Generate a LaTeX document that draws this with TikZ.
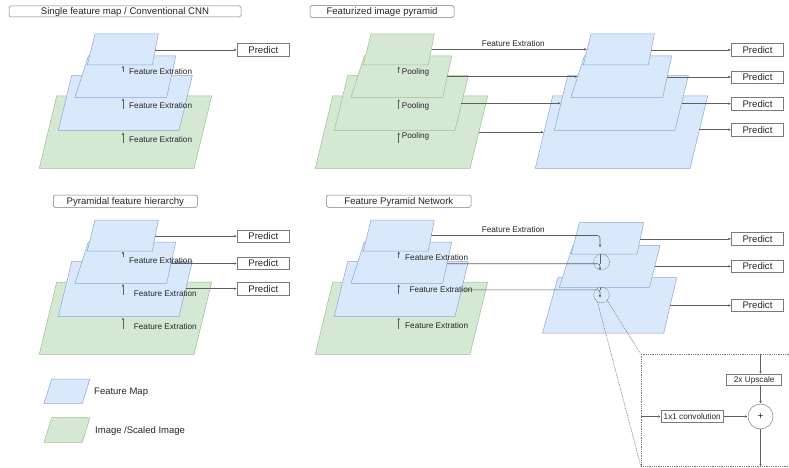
\documentclass[tikz,border=0pt]{standalone}
\usepackage{fontspec}
\setmainfont{Liberation Sans}
\usetikzlibrary{arrows.meta}

\definecolor{fmfill}{HTML}{DAE8FC}
\definecolor{fmline}{HTML}{89A7D8}
\definecolor{imfill}{HTML}{D5E8D4}
\definecolor{imline}{HTML}{99C28A}
\definecolor{wire}{HTML}{5E5E5E}
\definecolor{boxline}{HTML}{7A7A7A}
\definecolor{txt}{HTML}{262626}

% one slanted layer: style, then its four corners
\newcommand\plate[5]{\filldraw[#1] #2 -- #3 -- #4 -- #5 -- cycle;}
% a four-level stack: #1 style of the three upper layers, #2 style of the base layer
\newcommand\pyramid[2]{%
  \plate{#2}{(56.7,96)}{(211.7,96)}{(194,168.3)}{(39.3,168.3)}
  \plate{#1}{(71.7,75.7)}{(192.3,75.7)}{(179,130.3)}{(58.3,130.3)}
  \plate{#1}{(88.3,56)}{(175.7,56)}{(166.7,97.3)}{(75,97.3)}
  \plate{#1}{(95,34)}{(158.3,34)}{(152.3,65)}{(87.3,65)}
}

\tikzset{
  fmap/.style={fill=fmfill,draw=fmline,line width=0.5pt,line join=miter},
  img/.style={fill=imfill,draw=imline,line width=0.5pt,line join=miter},
  wire/.style={draw=wire,line width=0.6pt,-{Latex[length=2.8pt,width=2.4pt]}},
  plainwire/.style={draw=wire,line width=0.6pt},
  titlebox/.style={draw=boxline,fill=white,rounded corners=1.5pt,line width=0.5pt,
    inner sep=0pt,text=txt,text height=6.9pt,text depth=0.8pt,
    font=\fontsize{9.6}{11}\selectfont},
  predbox/.style={draw=boxline,fill=white,line width=0.5pt,inner sep=0pt,
    minimum width=52pt,minimum height=12.3pt,text=txt,text height=6.9pt,text depth=0pt,
    font=\fontsize{9.6}{11}\selectfont},
  opbox/.style={draw=boxline,fill=white,line width=0.5pt,inner sep=0pt,
    text=txt,text height=5.9pt,text depth=0pt,font=\fontsize{8.2}{10}\selectfont},
  lbl/.style={inner sep=0pt,anchor=west,text=txt,font=\fontsize{8.2}{10}\selectfont},
  toplbl/.style={inner sep=0pt,text=txt,font=\fontsize{8.2}{10}\selectfont},
  legendlbl/.style={inner sep=0pt,anchor=west,text=txt,font=\fontsize{9.5}{11}\selectfont},
  zoomline/.style={draw=boxline,line width=0.6pt,dash pattern=on 0.9pt off 0.9pt},
}

\begin{document}
\begin{tikzpicture}[x=1pt,y=-1pt]
\useasboundingbox (0,0) rectangle (789,468);
\fill[white] (0,0) rectangle (789,468);

% ---------------- Single feature map ----------------
\node[titlebox,minimum width=232pt,minimum height=11pt] (t1) at (125,11.5) {Single feature map / Conventional CNN};
\pyramid{fmap}{img}
\coordinate (s1a) at (123,72);   \coordinate (s1b) at (123,65.3);
\coordinate (s1c) at (123,109);  \coordinate (s1d) at (123,98);
\coordinate (s1e) at (123,143);  \coordinate (s1f) at (123,132);
\draw[wire] (s1a) -- (s1b);
\draw[wire] (s1c) -- (s1d);
\draw[wire] (s1e) -- (s1f);
\node[lbl] (s1l1) at (129,72) {Feature Extration};
\node[lbl] (s1l2) at (129,106) {Feature Extration};
\node[lbl] (s1l3) at (129,140) {Feature Extration};
\node[predbox] (p1) at (263.3,49.85) {Predict};
\coordinate (s1out) at (154.7,49.85);
\draw[wire] (s1out) -- (p1.west);

% ---------------- Featurized image pyramid ----------------
\node[titlebox,minimum width=144pt,minimum height=11.6pt] (t2) at (382,11.5) {Featurized image pyramid};
\begin{scope}[shift={(276,0)}]
  \pyramid{img}{img}
\end{scope}
\begin{scope}[shift={(496,0)}]
  \pyramid{fmap}{fmap}
\end{scope}
\coordinate (s2a) at (398.7,73);    \coordinate (s2b) at (398.7,66);
\coordinate (s2c) at (398.7,108.7); \coordinate (s2d) at (398.7,98.7);
\coordinate (s2e) at (398.7,143.3); \coordinate (s2f) at (398.7,132);
\draw[wire] (s2a) -- (s2b);
\draw[wire] (s2c) -- (s2d);
\draw[wire] (s2e) -- (s2f);
\node[lbl] (s2l1) at (401.7,72) {Pooling};
\node[lbl] (s2l2) at (401.7,106) {Pooling};
\node[lbl] (s2l3) at (401.7,136.7) {Pooling};
% image levels to feature levels
\coordinate (g1) at (431.5,49.3);  \coordinate (r1) at (587.2,49.3);
\coordinate (g2) at (446.5,76.7);  \coordinate (r2) at (577.6,76.7);
\coordinate (g3) at (461.3,103.3); \coordinate (r3) at (560.9,103.3);
\coordinate (g4) at (478.8,132.3); \coordinate (r4) at (544,132.3);
\draw[wire] (g1) -- (r1);
\draw[wire] (g2) -- (r2);
\draw[wire] (g3) -- (r3);
\draw[wire] (g4) -- (r4);
\node[toplbl] (s2fe) at (513.3,43.3) {Feature Extration};
\node[predbox] (p2a) at (757.5,49.85) {Predict};
\node[predbox] (p2b) at (757.5,77) {Predict};
\node[predbox] (p2c) at (757.5,103.65) {Predict};
\node[predbox] (p2d) at (757.5,129.65) {Predict};
\coordinate (q1) at (651.2,49.85);
\coordinate (q2) at (667.1,77);
\coordinate (q3) at (681.5,103.65);
\coordinate (q4) at (699.4,129.65);
\draw[wire] (q1) -- (p2a.west);
\draw[wire] (q2) -- (p2b.west);
\draw[wire] (q3) -- (p2c.west);
\draw[wire] (q4) -- (p2d.west);

% ---------------- Pyramidal feature hierarchy ----------------
\node[titlebox,minimum width=144pt,minimum height=12.3pt] (t3) at (125.3,201.15) {Pyramidal feature hierarchy};
\begin{scope}[shift={(0,186)}]
  \pyramid{fmap}{img}
\end{scope}
\coordinate (s3a) at (123,256.7); \coordinate (s3b) at (123,251);
\coordinate (s3c) at (123,294.7); \coordinate (s3d) at (123,283.7);
\coordinate (s3e) at (123,329.3); \coordinate (s3f) at (123,317.3);
\draw[wire] (s3a) -- (s3b);
\draw[wire] (s3c) -- (s3d);
\draw[wire] (s3e) -- (s3f);
\node[predbox] (p3a) at (263.3,236.15) {Predict};
\node[predbox] (p3b) at (263.3,263.5) {Predict};
\node[predbox] (p3c) at (263.3,288.65) {Predict};
\coordinate (h1) at (155.2,236.15);
\coordinate (h2) at (171,263.5);
\coordinate (h3) at (185.7,288.65);
\draw[wire] (h1) -- (p3a.west);
\draw[wire] (h2) -- (p3b.west);
\draw[wire] (h3) -- (p3c.west);
\node[lbl] (s3l1) at (129,260.3) {Feature Extration};
\node[lbl] (s3l2) at (133.7,293.7) {Feature Extration};
\node[lbl] (s3l3) at (133.7,326.3) {Feature Extration};

% ---------------- Feature Pyramid Network ----------------
\node[titlebox,minimum width=144.3pt,minimum height=12.3pt] (t4) at (398.85,201.15) {Feature Pyramid Network};
\begin{scope}[shift={(276,186)}]
  \pyramid{fmap}{img}
\end{scope}
% top-down path
\plate{fmap}{(558,277.5)}{(676.7,277.5)}{(663.7,333)}{(542.5,333)}
\plate{fmap}{(573,245.3)}{(660,245.3)}{(649.5,287.3)}{(559.3,287.3)}
\plate{fmap}{(579.5,222.7)}{(643.7,222.7)}{(637,254.2)}{(571.2,254.2)}
\coordinate (s4a) at (398.7,257.7); \coordinate (s4b) at (398.7,251);
\coordinate (s4c) at (398.7,294.3); \coordinate (s4d) at (398.7,284);
\coordinate (s4e) at (398.7,329.3); \coordinate (s4f) at (398.7,317.3);
\draw[wire] (s4a) -- (s4b);
\draw[wire] (s4c) -- (s4d);
\draw[wire] (s4e) -- (s4f);
\node[lbl] (s4l1) at (405,258) {Feature Extration};
\node[lbl] (s4l2) at (409.3,289.7) {Feature Extration};
\node[lbl] (s4l3) at (405,326) {Feature Extration};
\node[toplbl] (s4fe) at (513.3,229.3) {Feature Extration};
% lateral connections
\coordinate (l1) at (431.3,235.5); \coordinate (l1t) at (600,247.7);
\coordinate (l2) at (447.1,263.7); \coordinate (l2t) at (600,270.5);
\coordinate (l3) at (461.3,289.8); \coordinate (l3t) at (600,298);
\coordinate (d1) at (600,254.2);
\coordinate (d2) at (600,287.3);
\draw[wire,rounded corners=2.5pt] (l1) -- (l1 -| l1t) -- (l1t);
\draw[plainwire] (d1) -- (d1 |- l2);
\draw[wire,rounded corners=2.5pt] (l2) -- (l2 -| l2t) -- (l2t);
\draw[plainwire] (d2) -- (d2 |- l3);
\draw[wire,rounded corners=2.5pt] (l3) -- (l3 -| l3t) -- (l3t);
\node[zoomline,circle,minimum size=16pt,inner sep=0pt] (m1) at (601.5,262) {};
\node[zoomline,circle,minimum size=15.6pt,inner sep=0pt] (m2) at (601.5,295) {};
\node[predbox] (p4a) at (757.5,238.85) {Predict};
\node[predbox] (p4b) at (757.5,266.35) {Predict};
\node[predbox] (p4c) at (757.5,305.5) {Predict};
\coordinate (f1) at (640.3,238.85);
\coordinate (f2) at (654.7,266.35);
\coordinate (f3) at (670.1,305.5);
\draw[wire] (f1) -- (p4a.west);
\draw[wire] (f2) -- (p4b.west);
\draw[wire] (f3) -- (p4c.west);

% ---------------- merge detail ----------------
\coordinate (zt) at (641,354.3);
\coordinate (zb) at (641,466.7);
\draw[zoomline] (800,354.3) -- (zt) -- (zb) -- (800,466.7);
\draw[zoomline] (m2.240) -- (zb);
\draw[zoomline] (m2.315) -- (zt);
\node[opbox,minimum width=55pt,minimum height=10.7pt] (up) at (754.2,379.65) {2x Upscale};
\node[opbox,minimum width=62.3pt,minimum height=11.6pt] (conv) at (692.2,416.5) {1x1 convolution};
\node[draw=boxline,fill=white,line width=0.5pt,circle,minimum size=25pt,inner sep=0pt,
  text=txt,font=\fontsize{10}{11}\selectfont] (add) at (760.5,416.5) {+};
\coordinate (upin) at (760.5,354.3);
\coordinate (convin) at (641,416.5);
\coordinate (addout) at (760.5,466.7);
\draw[wire] (upin) -- (upin |- up.north);
\draw[wire] (up.south -| add) -- (add.north);
\draw[wire] (convin) -- (conv.west);
\draw[wire] (conv.east) -- (add.west);
\draw[wire] (add.south) -- (addout);

% ---------------- legend ----------------
\plate{fmap}{(51.7,379)}{(90,379)}{(82.3,403.3)}{(44,403.3)}
\plate{img}{(51.7,417.7)}{(90,417.7)}{(82.3,442.3)}{(44,442.3)}
\node[legendlbl] (k1) at (94,392.3) {Feature Map};
\node[legendlbl] (k2) at (95,430.7) {Image /Scaled Image};
\end{tikzpicture}
\end{document}
